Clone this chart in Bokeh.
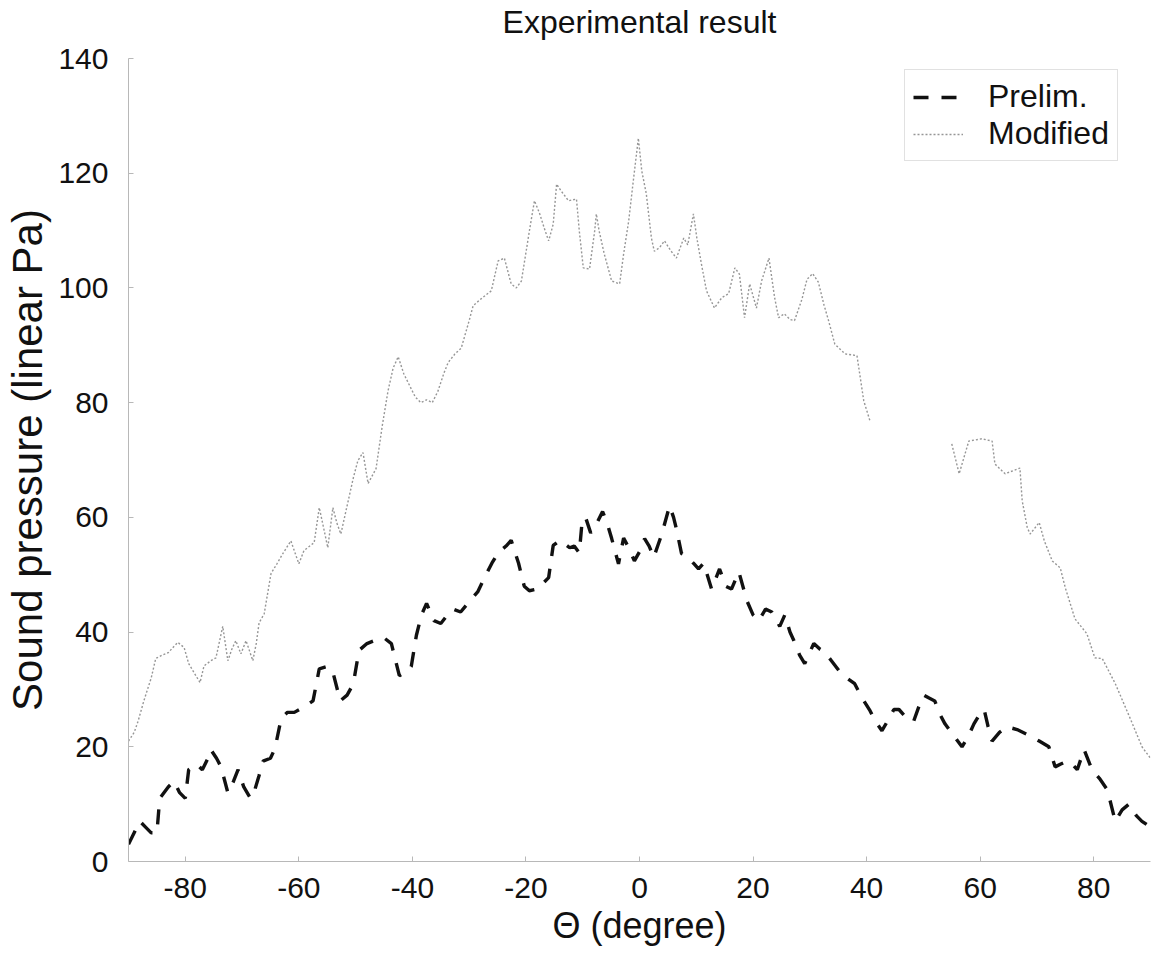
from bokeh.plotting import figure
from bokeh.models import Range1d, FixedTicker, Legend, LegendItem, Title
from bokeh.embed import file_html
from bokeh.resources import INLINE

# ---- data ----
prelim_x = [-90, -89, -88, -87, -86, -85, -84.5, -83, -82, -81, -80, -79.4, -78, -77, -76, -75.5,
            -74.5, -73.7, -72.5, -71.5, -70.7, -69.7, -68.5, -67.9, -67, -66.3, -65, -64.2, -63.1,
            -62, -60.8, -59, -57.5, -56.4, -55, -54, -52.7, -51.5, -50.4, -49.4, -48, -46.7, -45,
            -43.7, -42.3, -41, -40.2, -39.3, -38.4, -37.5, -36.2, -35, -33.8, -32.8, -31.5, -30,
            -28.5, -27.3, -26, -24.9, -23.5, -22.6, -21.3, -20.3, -19.4, -18, -16, -15.2, -14,
            -12.3, -11.5, -10.6, -10.1, -9.5, -8.6, -7.5, -6.5, -5.7, -4.9, -3.7, -2.8, -1.8, -0.9,
            0, 0.9, 1.7, 2.5, 3.2, 3.9, 5.3, 6, 6.5, 7.4, 8.5, 9.5, 10.4, 11.3, 12.7, 14.1, 15.2,
            16.2, 17.5, 18.9, 20, 21, 22.2, 23.3, 24.7, 25.6, 26.5, 27.2, 28.2, 29.1, 30, 30.7,
            31.8, 32.6, 33.8, 35.1, 36.5, 37.9, 39.2, 40.6, 41.5, 42.7, 43.7, 44.8, 45.7, 46.6,
            47.5, 48.3, 49.2, 50.1, 51, 52, 53, 53.8, 55.3, 56.8, 58, 58.9, 59.8, 60.7, 61.4, 62.1,
            63.4, 64.7, 66.5, 68.6, 70.4, 72.1, 73.2, 74.2, 75.3, 76.2, 77.1, 78.3, 79.7, 81, 82.4,
            83.8, 85, 86.2, 87.5, 88.5, 90]
prelim_y = [3, 5, 7, 6, 5, 5, 11, 13, 14, 12, 11, 16, 17, 16, 18, 19.5,
            18, 16.5, 12, 14, 16, 13, 11, 12, 15, 17.5, 18, 19.7, 25,
            26, 26, 27, 28, 33.6, 34, 33, 28, 29, 31, 36.8, 38, 38.5, 39,
            38, 32.4, 33, 34, 39.4, 43, 45, 42, 41.5, 43, 44, 43.5, 45.3,
            47, 49.5, 52, 53.8, 55, 56, 52, 48, 47.2, 47.5, 49.5, 55.1, 56,
            54.7, 55, 53.8, 59.4, 60, 57.3, 59, 61, 59, 56.3, 51.9, 56.4, 54.5, 52.4,
            54, 56.3, 55, 53, 55, 57, 62, 60, 58, 53.7, 53, 52, 51, 52, 47.5, 51, 48,
            47.5, 50.5, 45.5, 43, 42, 44, 43.5, 41, 43, 40, 38.5, 36, 34.5, 36.5, 38,
            37, 36.5, 35, 33.3, 32, 31, 28.5, 26.3, 24.5, 22.8, 24.5, 26.5, 26.5, 25.5,
            24.5, 24.5, 27, 29, 28.5, 28, 25.5, 24, 22, 20, 22, 24, 25.5, 26.5, 23.5, 21,
            22.5, 23.5, 23, 22, 21, 20, 16.5, 17, 17.5, 17, 16, 19.5, 16, 14.5, 12.5,
            7, 9, 10, 8, 7, 6]

modified_x = [-90, -89, -88.3, -87.3, -86, -85.2, -84, -83, -82, -81.3, -80.2, -79.4, -78.5, -77.4,
              -76.7, -75.5, -74.6, -73.4, -72.5, -71.8, -71.1, -70.2, -69.3, -68.1, -67.5, -67,
              -66.1, -64.9, -63.8, -62.8, -61.4, -60, -59.1, -57.3, -56.4, -55.6, -54.9, -54, -53.3,
              -52.6, -51.3, -50.4, -49.6, -48.7, -47.8, -46.4, -45.3, -44.3, -43.4, -42.5, -41.5,
              -40.5, -39.5, -38.5, -37.5, -36.5, -35.5, -34.5, -33.7, -32.5, -31.4, -30, -29.3,
              -27.9, -26.1, -24.9, -23.8, -22.6, -21.7, -20.8, -19.4, -18.5, -17.6, -16.8, -16,
              -15.2, -14.6, -13.8, -12.5, -11.1, -10.6, -9.9, -8.8, -7.9, -7.6, -7.1, -6.2, -4.9,
              -3.5, -2.8, -1.9, -1.1, -0.2, 0.4, 1.2, 2.1, 2.6, 3.5, 4.4, 5.5, 6.5, 7.8, 8.5, 9.5,
              10.1, 10.9, 11.8, 13.2, 14.5, 15.7, 16.8, 17.6, 18.5, 19.4, 20.6, 21.5, 22.8, 23.8,
              24.5, 25.5, 26.5, 27.3, 28.6, 29.5, 30.5, 31.5, 32.5, 33.3, 34.4, 36.2, 38.3, 39.5,
              40.6, 47, 55, 56.3, 58, 60.3, 62.1, 62.6, 64.4, 67, 67.4, 68.3, 68.8, 70.4, 71.3,
              72.7, 74.1, 75, 76.7, 78.8, 80.2, 81.5, 83.8, 86.4, 88.5, 90]
modified_y = [21, 22.5, 24.5, 28, 32, 35.4, 36, 36.4, 37.5, 38.2, 37.3, 34.5, 33, 31.2,
              34.1, 35, 35.5, 41, 35, 37, 38.5, 36.2, 38.5, 35, 38, 41.6,
              43.2, 50.2, 52, 53.7, 55.9, 51.9, 54.2, 55.6, 61.7, 58, 54.7, 61.7, 59,
              57.1, 62.9, 66.9, 69.9, 71.3, 65.9, 68.5, 76, 82, 86, 88, 85,
              83, 81, 80, 80.5, 80, 82, 85, 87, 88.5, 89.5, 94.3, 96.9,
              98.1, 99.5, 104.7, 105.2, 100.7, 100, 101.2, 109.9, 115.2, 113, 110.5, 108.2,
              111.1, 118.1, 116.9, 115.2, 115.5, 109.9, 103.5, 103.3, 109.9, 112.9, 109.9, 105.9, 101.2,
              100.7, 105.9, 111.7, 118.6, 126.1, 120.4, 116.4, 108.7, 106.4, 107, 108.2, 106.5, 105.2, 108.7, 107.5, 112.9,
              108.7, 104.2, 99.5, 96.5, 98.3, 99, 103.5, 102.4, 94.8, 100.7, 96.5, 101.2, 105.2, 98.3,
              94.8, 95.5, 94.5, 94.3, 98, 101.5, 102.5, 101, 97, 94.3, 90.2, 88.5, 88.2, 80.3,
              76.8, float("nan"), 72.8, 67.6, 73.3, 73.7, 73.3, 69.3, 67.6, 68.6, 62.9, 58.2, 57.1, 59.1, 55.9,
              52.4, 51.2, 47.7, 42.3, 39.7, 35.5, 35.4, 31, 25, 20, 18]

x_ticks = [-80, -60, -40, -20, 0, 20, 40, 60, 80]
y_ticks = [0, 20, 40, 60, 80, 100, 120, 140]
title_text = "Experimental result"

FONT = "Liberation Sans"

p = figure(width=1151, height=956, x_range=Range1d(-90, 90), y_range=Range1d(0, 140),
           output_backend="svg", toolbar_location=None,
           min_border_left=128, min_border_right=1, min_border_top=58, min_border_bottom=95)

r_mod = p.line(modified_x, modified_y, line_color="#969696", line_width=1.4, line_dash="2 2")
r_pre = p.line(prelim_x, prelim_y, line_color="#111111", line_width=3.4, line_dash="15 13")

p.title.text = title_text
p.title.align = "center"
p.title.vertical_align = "top"
p.title.text_font = FONT
p.title.text_font_size = "32px"
p.title.text_font_style = "normal"
p.title.text_color = "#111111"
p.title.standoff = 4

# small blank spacer panel between the title and the frame
p.add_layout(Title(text=" ", text_font_size="2px", standoff=11), "above")

p.xgrid.visible = False
p.ygrid.visible = False
p.outline_line_color = None

for ax in (p.xaxis[0], p.yaxis[0]):
    ax.axis_line_color = "#b8b8b8"
    ax.major_tick_line_color = "#b8b8b8"
    ax.major_tick_in = 5
    ax.major_tick_out = 0
    ax.minor_tick_line_color = None
    ax.major_label_text_font = FONT
    ax.major_label_text_font_size = "30px"
    ax.major_label_text_color = "#111111"
    ax.axis_label_text_font = FONT
    ax.axis_label_text_font_style = "normal"
    ax.axis_label_text_color = "#111111"

p.xaxis[0].ticker = FixedTicker(ticks=x_ticks)
p.yaxis[0].ticker = FixedTicker(ticks=y_ticks)
p.xaxis[0].major_label_overrides = {v: str(v) for v in x_ticks}
p.yaxis[0].major_label_overrides = {v: str(v) for v in y_ticks}
p.xaxis[0].axis_label = "Θ (degree)"
p.yaxis[0].axis_label = "Sound pressure (linear Pa)"
p.xaxis[0].axis_label_text_font_size = "36px"
p.yaxis[0].axis_label_text_font_size = "42px"
p.xaxis[0].major_label_standoff = 16
p.xaxis[0].axis_label_standoff = 4
p.yaxis[0].major_label_standoff = 20
p.yaxis[0].axis_label_standoff = 4

legend = Legend(items=[LegendItem(label="Prelim.", renderers=[r_pre]),
                       LegendItem(label="Modified", renderers=[r_mod])],
                location=(776, 700))
legend.label_text_font = FONT
legend.label_text_font_size = "32px"
legend.label_text_color = "#111111"
legend.glyph_width = 50
legend.glyph_height = 28
legend.label_standoff = 25
legend.padding = 8
legend.spacing = 0
legend.margin = 0
legend.border_line_color = "#c4c4c4"
legend.background_fill_color = "white"
legend.background_fill_alpha = 1.0
p.add_layout(legend)

open("out.html", "w").write(file_html(p, INLINE))
